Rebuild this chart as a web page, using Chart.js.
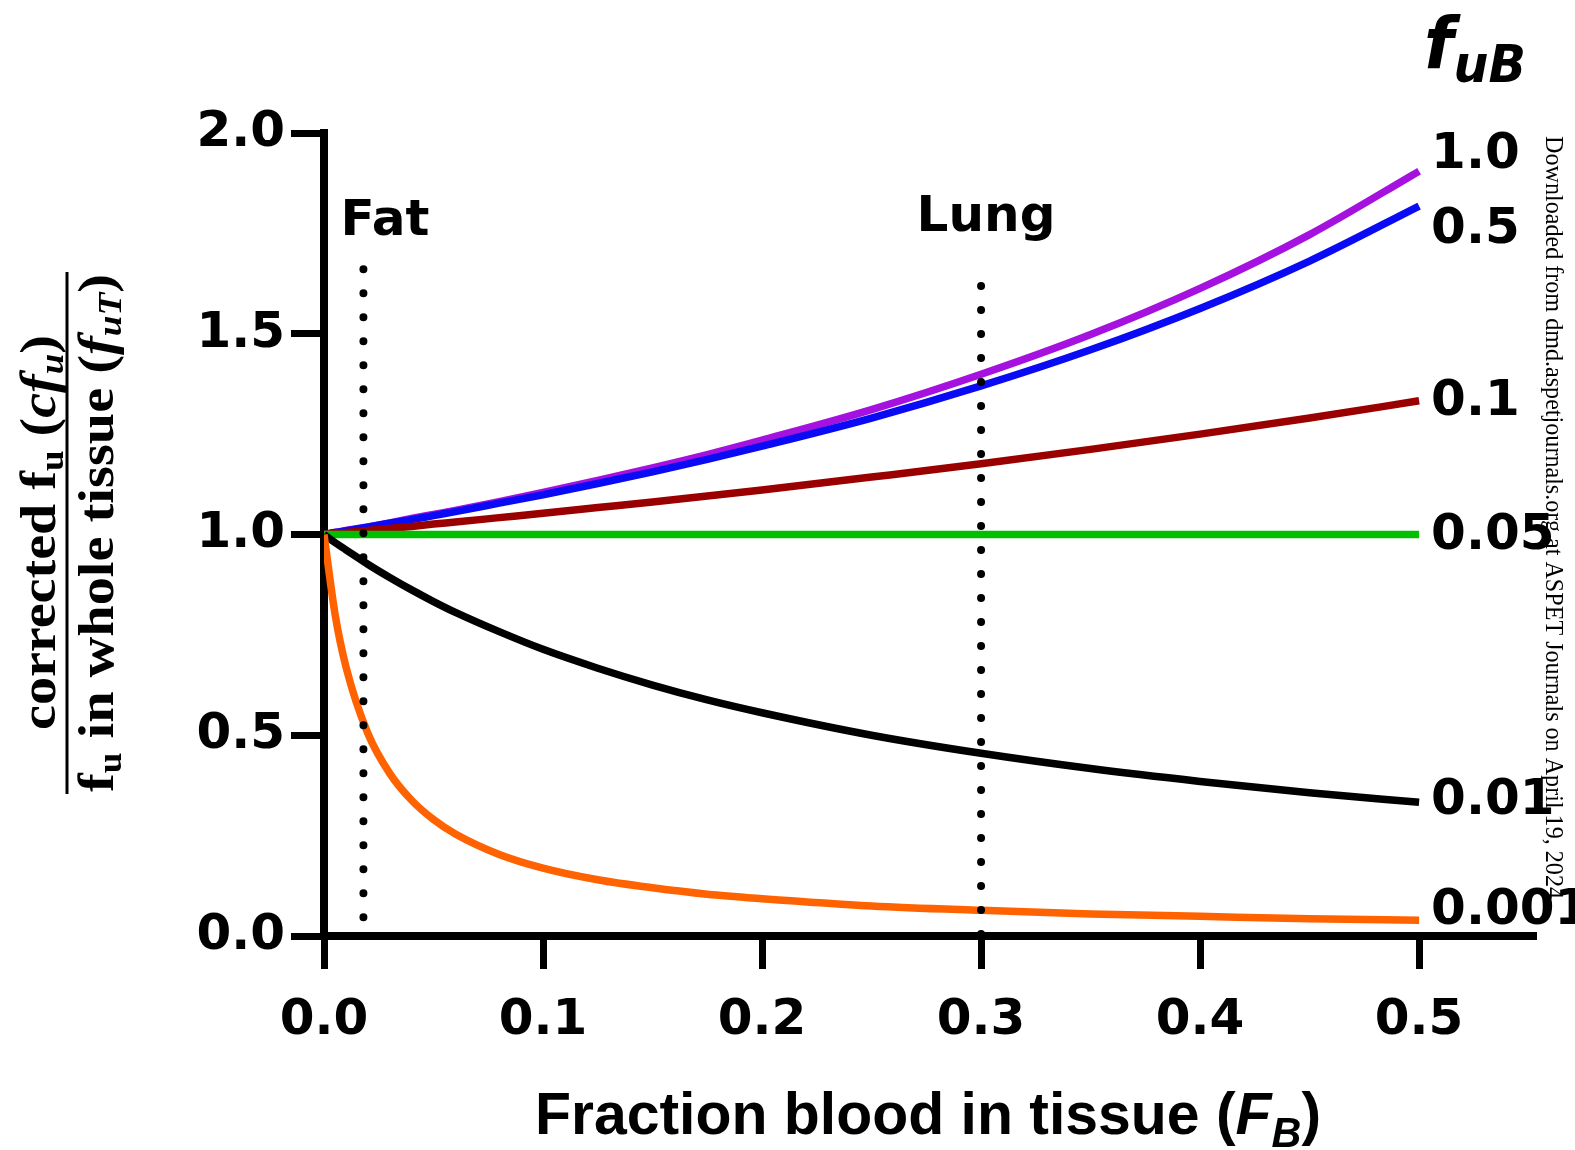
<!DOCTYPE html>
<html>
<head>
<meta charset="utf-8">
<title>Corrected fu vs fraction blood in tissue</title>
<script src="https://cdn.jsdelivr.net/npm/chart.js@4.4.1/dist/chart.umd.min.js"></script>
<style>
  html, body { margin: 0; padding: 0; background: #fff; }
  #wrap { width: 1575px; height: 1150px; position: relative; }
</style>
</head>
<body>
<div id="wrap"><canvas id="chart"></canvas></div>
<script>
// ========== Data ==========

// fraction of blood in tissue (F_B)
const fractionBlood = [0, 0.005, 0.01, 0.02, 0.03, 0.04, 0.05, 0.06, 0.08, 0.1,
  0.125, 0.15, 0.175, 0.2, 0.25, 0.3, 0.35, 0.4, 0.45, 0.5];

// cfu / fuT for each unbound fraction in blood (fuB)
const fuB_1_0 = [1, 1.005, 1.010, 1.019, 1.029, 1.040, 1.050, 1.060, 1.082, 1.105,
  1.135, 1.166, 1.199, 1.235, 1.311, 1.399, 1.498, 1.613, 1.747, 1.905];
const fuB_0_5 = [1, 1.005, 1.009, 1.018, 1.028, 1.037, 1.047, 1.057, 1.078, 1.099,
  1.127, 1.156, 1.187, 1.220, 1.290, 1.370, 1.460, 1.563, 1.681, 1.818];
const fuB_0_1 = [1, 1.003, 1.005, 1.010, 1.015, 1.020, 1.026, 1.031, 1.042, 1.053,
  1.067, 1.081, 1.096, 1.111, 1.143, 1.176, 1.212, 1.250, 1.290, 1.333];
const fuB_0_05 = [1, 1, 1, 1, 1, 1, 1, 1, 1, 1,
  1, 1, 1, 1, 1, 1, 1, 1, 1, 1];
const fuB_0_01 = [1, 0.980, 0.962, 0.926, 0.893, 0.862, 0.833, 0.806, 0.758, 0.714,
  0.667, 0.625, 0.588, 0.556, 0.500, 0.455, 0.417, 0.385, 0.357, 0.333];
const fuB_0_001 = [1, 0.803, 0.671, 0.505, 0.405, 0.338, 0.290, 0.254, 0.203, 0.169,
  0.140, 0.120, 0.104, 0.093, 0.075, 0.064, 0.055, 0.049, 0.043, 0.039];

const seriesLabels = ['1.0', '0.5', '0.1', '0.05', '0.01', '0.001'];
const seriesValues = [fuB_1_0, fuB_0_5, fuB_0_1, fuB_0_05, fuB_0_01, fuB_0_001];
const seriesColors = ['#A512E0', '#0A0AF5', '#9B0000', '#00BF00', '#000000', '#FF6200'];

// tissue markers: blood fraction and extent of the dotted line
const tissueNames = ['Fat', 'Lung'];
const tissueFB = [0.018, 0.3];
const tissueSpan = [[0.047, 1.68], [0.005, 1.655]];

const xTicks = [0, 0.1, 0.2, 0.3, 0.4, 0.5];
const yTicks = [0, 0.5, 1.0, 1.5, 2.0];

// ========== Text helpers ==========

// draw a row of differently styled pieces, squeezed to a given width
function drawRuns(ctx, runs, x, y, width) {
  let total = 0;
  runs.forEach(r => { ctx.font = r.font; r.w = ctx.measureText(r.text).width; total += r.w; });
  const k = width ? width / total : 1;
  ctx.save();
  ctx.translate(x, y);
  ctx.scale(k, 1);
  let cx = 0;
  runs.forEach(r => {
    ctx.font = r.font;
    ctx.fillText(r.text, cx, r.dy || 0);
    cx += r.w;
  });
  ctx.restore();
}

const labelNudge = [-16, 24, 1, 2, -1, -9];

const textOverlay = {
  id: 'textOverlay',
  afterDraw(chart) {
    const { ctx, scales: { x, y } } = chart;
    ctx.save();
    ctx.fillStyle = '#000';
    ctx.textBaseline = 'middle';
    ctx.textAlign = 'left';

    // fuB value next to each curve end
    ctx.font = 'bold 50px "DejaVu Sans"';
    const endX = x.getPixelForValue(fractionBlood[fractionBlood.length - 1]) + 12;
    seriesLabels.forEach((lab, i) => {
      const v = seriesValues[i][seriesValues[i].length - 1];
      ctx.fillText(lab, endX, y.getPixelForValue(v) + labelNudge[i]);
    });

    // tissue names over dotted lines
    ctx.textAlign = 'center';
    ctx.fillText(tissueNames[0], 385, 222);
    ctx.fillText(tissueNames[1], 986, 218);

    // f_uB heading
    ctx.textAlign = 'left';
    ctx.textBaseline = 'alphabetic';
    drawRuns(ctx, [
      { text: 'f', font: 'italic bold 72px "DejaVu Sans"' },
      { text: 'uB', font: 'italic bold 52px "DejaVu Sans"', dy: 14 }
    ], 1424, 68, 102);

    // x axis title
    drawRuns(ctx, [
      { text: 'Fraction blood in tissue (', font: 'bold 60px "Liberation Sans"' },
      { text: 'F', font: 'italic bold 60px "Liberation Sans"' },
      { text: 'B', font: 'italic bold 42px "Liberation Sans"', dy: 13 },
      { text: ')', font: 'bold 60px "Liberation Sans"' }
    ], 535, 1134, 786);

    // y axis title as a fraction
    ctx.save();
    ctx.translate(67, 533);
    ctx.rotate(-Math.PI / 2);
    drawRuns(ctx, [
      { text: 'corrected f', font: 'bold 50px "Liberation Serif"' },
      { text: 'u', font: 'bold 33px "Liberation Serif"', dy: 8 },
      { text: ' (', font: 'bold 50px "Liberation Serif"' },
      { text: 'cf', font: 'italic bold 50px "Liberation Serif"' },
      { text: 'u', font: 'italic bold 33px "Liberation Serif"', dy: 8 },
      { text: ')', font: 'bold 50px "Liberation Serif"' }
    ], -197, -12, 395);
    ctx.fillRect(-261, -1.5, 522, 3);
    drawRuns(ctx, [
      { text: 'f', font: 'bold 50px "Liberation Serif"' },
      { text: 'u', font: 'bold 33px "Liberation Serif"', dy: 8 },
      { text: ' in whole tissue (', font: 'bold 50px "Liberation Serif"' },
      { text: 'f', font: 'italic bold 50px "Liberation Serif"' },
      { text: 'uT', font: 'italic bold 33px "Liberation Serif"', dy: 8 },
      { text: ')', font: 'bold 50px "Liberation Serif"' }
    ], -259, 46, 518);
    ctx.restore();

    // source stamp along the right edge
    ctx.save();
    ctx.translate(1546, 136);
    ctx.rotate(Math.PI / 2);
    drawRuns(ctx, [
      { text: 'Downloaded from dmd.aspetjournals.org at ASPET Journals on April 19, 2024',
        font: '26px "Liberation Serif"' }
    ], 0, 0, 763);
    ctx.restore();

    ctx.restore();
  }
};

// ========== Chart ==========

const curveSets = seriesValues.map((vals, i) => ({
  label: seriesLabels[i],
  data: fractionBlood.map((fb, j) => ({ x: fb, y: vals[j] })),
  borderColor: seriesColors[i],
  borderWidth: 7.5,
  pointRadius: 0,
  fill: false,
  cubicInterpolationMode: 'monotone',
  order: seriesLabels.length - 1 - i,
}));

const tissueSets = tissueFB.map((fb, i) => ({
  label: tissueNames[i],
  data: tissueSpan[i].map(v => ({ x: fb, y: v })),
  borderColor: '#000',
  borderWidth: 8,
  borderDash: [0, 24],
  borderCapStyle: 'round',
  pointRadius: 0,
  fill: false,
  order: -1,
}));

const tickFont = { family: 'DejaVu Sans', weight: 'bold', size: 50 };

new Chart(document.getElementById('chart'), {
  type: 'line',
  data: { datasets: [...curveSets, ...tissueSets] },
  options: {
    responsive: true,
    maintainAspectRatio: false,
    animation: false,
    layout: { padding: { top: 133, right: 42, left: 0, bottom: 0 } },
    plugins: { legend: { display: false }, tooltip: { enabled: false } },
    elements: { line: { borderJoinStyle: 'round' } },
    scales: {
      x: {
        type: 'linear',
        min: 0,
        max: 0.552,
        afterBuildTicks: s => { s.ticks = xTicks.map(v => ({ value: v })); },
        afterFit: s => { s.height = 214; },
        ticks: { callback: v => v.toFixed(1), font: tickFont, color: '#000', padding: 22, maxRotation: 0 },
        grid: { drawOnChartArea: false, drawTicks: true, tickLength: 33, lineWidth: 7, color: '#000' },
        border: { display: true, width: 8, color: '#000' },
      },
      y: {
        min: 0,
        max: 2.0,
        afterBuildTicks: s => { s.ticks = yTicks.map(v => ({ value: v })); },
        afterFit: s => { s.width = 324; },
        ticks: { callback: v => v.toFixed(1), font: tickFont, color: '#000', padding: 6 },
        grid: { drawOnChartArea: false, drawTicks: true, tickLength: 33, lineWidth: 7, color: '#000' },
        border: { display: true, width: 8, color: '#000' },
      },
    },
  },
  plugins: [textOverlay],
});
</script>
</body>
</html>
